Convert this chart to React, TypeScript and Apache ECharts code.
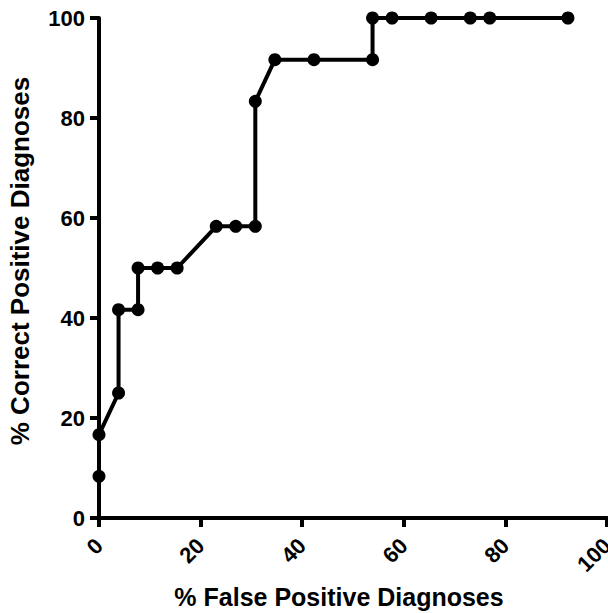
import React, { useEffect, useRef } from "react";
import * as echarts from "echarts";

const falsePositive = [0, 0, 3.85, 3.85, 7.69, 7.69, 11.54, 15.38, 23.08, 26.92, 30.77, 30.77, 34.62, 42.31, 53.85, 53.85, 57.69, 65.38, 73.08, 76.92, 92.31];
const correctPositive = [8.33, 16.67, 25, 41.67, 41.67, 50, 50, 50, 58.33, 58.33, 58.33, 83.33, 91.67, 91.67, 91.67, 100, 100, 100, 100, 100, 100];
const xTitle = "% False Positive Diagnoses";
const yTitle = "% Correct Positive Diagnoses";

export default function App() {
  const ref = useRef<HTMLDivElement>(null);
  useEffect(() => {
    if (!ref.current) return;
    const chart = echarts.init(ref.current, null, { renderer: "svg" });
    const data = falsePositive.map((x, i) => [x, correctPositive[i]]);
    const font = "Liberation Sans, Arial, sans-serif";
    chart.setOption({
      animation: false,
      grid: { left: 99, right: 1, top: 18, bottom: 95, outerBoundsMode: "none", containLabel: false },
      xAxis: {
        type: "value",
        min: 0,
        max: 100,
        interval: 20,
        name: xTitle,
        nameLocation: "middle",
        nameGap: 66,
        nameTextStyle: { color: "#000", fontFamily: font, fontWeight: "bold", fontSize: 25, padding: [0, 28, 0, 0] },
        axisLine: { show: true, lineStyle: { color: "#000", width: 4 } },
        axisTick: { show: true, length: 9, lineStyle: { color: "#000", width: 4 } },
        axisLabel: { rotate: 45, margin: 24, color: "#000", fontFamily: font, fontWeight: "bold", fontSize: 22 },
        splitLine: { show: false },
      },
      yAxis: {
        type: "value",
        min: 0,
        max: 100,
        interval: 20,
        name: yTitle,
        nameLocation: "middle",
        nameGap: 66,
        nameTextStyle: { color: "#000", fontFamily: font, fontWeight: "bold", fontSize: 26, padding: [0, 0, 0, 14] },
        axisLine: { show: true, lineStyle: { color: "#000", width: 4 } },
        axisTick: { show: true, length: 9, lineStyle: { color: "#000", width: 4 } },
        axisLabel: { margin: 14, color: "#000", fontFamily: font, fontWeight: "bold", fontSize: 22 },
        splitLine: { show: false },
      },
      series: [
        {
          type: "line",
          data,
          symbol: "circle",
          symbolSize: 13,
          itemStyle: { color: "#000" },
          lineStyle: { color: "#000", width: 4 },
        },
      ],
    });
    return () => chart.dispose();
  }, []);
  return (
    <div
      ref={ref}
      style={{ position: "absolute", left: 0, top: 0, width: 608, height: 613, overflow: "hidden" }}
    />
  );
}
